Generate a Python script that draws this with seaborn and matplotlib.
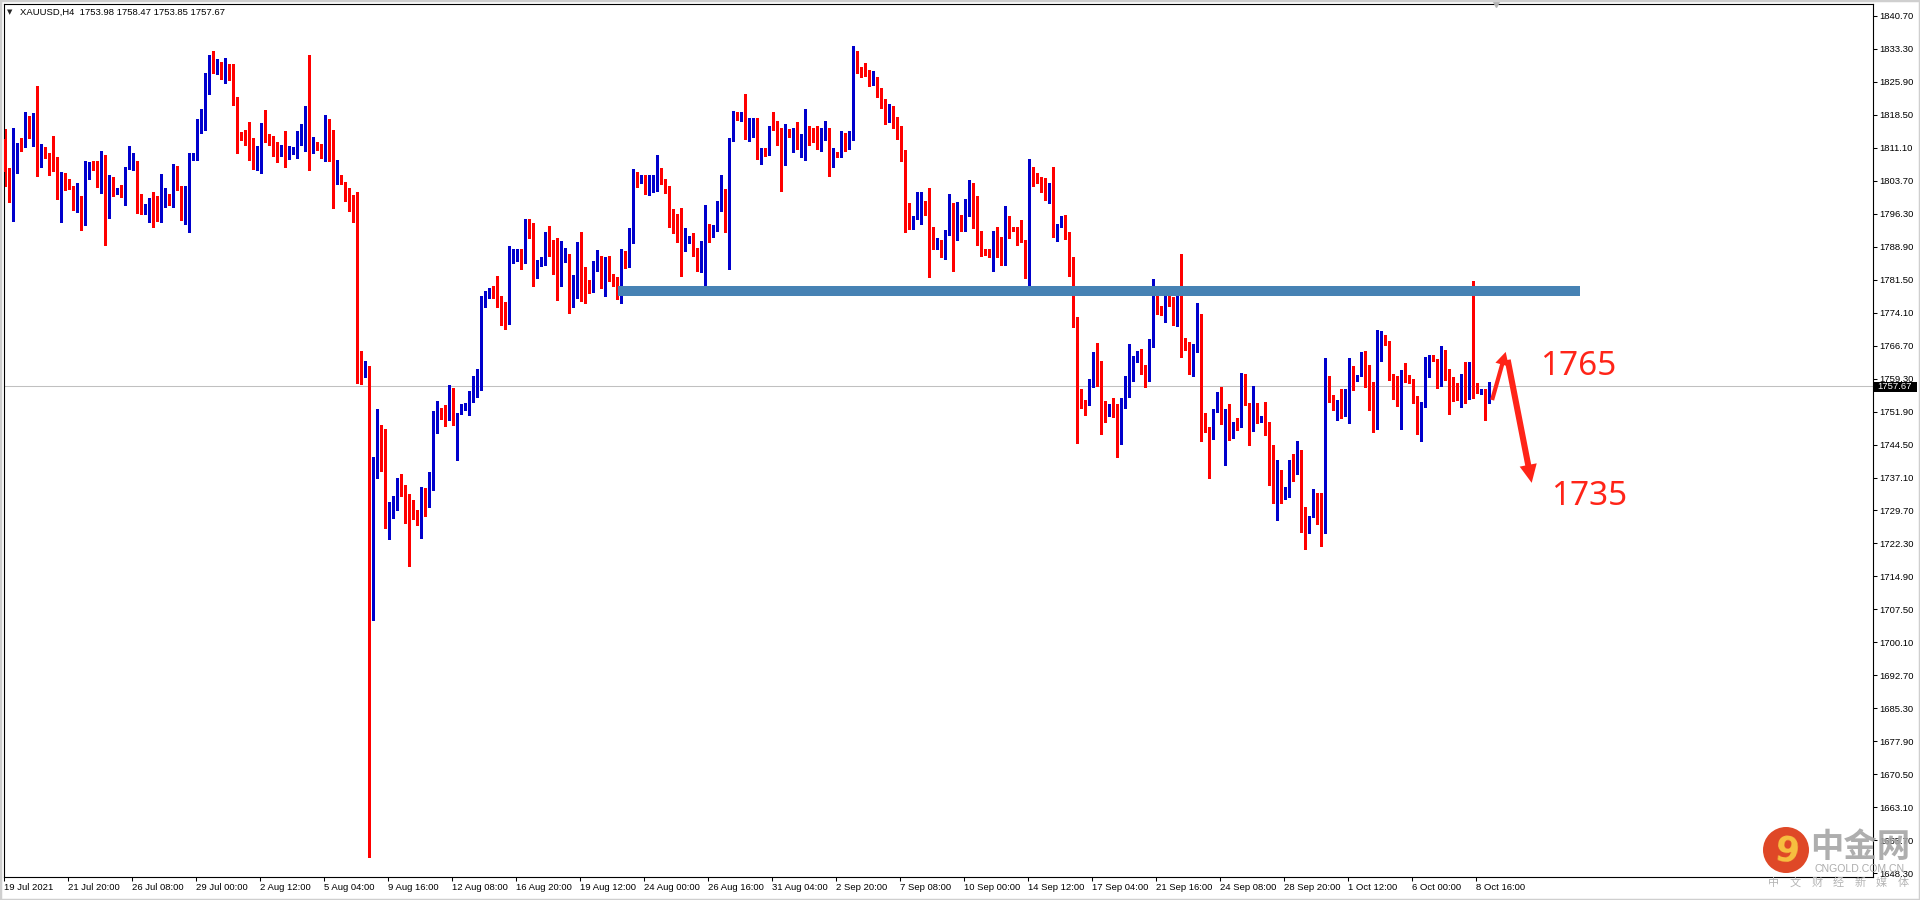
import numpy as np
import pandas as pd
import seaborn as sns
import matplotlib.pyplot as plt
from matplotlib import transforms
from matplotlib.patches import Rectangle, FancyArrowPatch, Ellipse, ArrowStyle

# XAUUSD H4 bars (19 Jul 2021 .. 8 Oct 2021)
opens = [
    1813.0, 1805.8, 1800.3, 1808.2, 1812.1, 1811.3, 1817.1, 1813.5, 1817.8, 1807.2,
    1809.9, 1809.7, 1808.5, 1807.4, 1800.3, 1804.0, 1803.6, 1802.5, 1798.2, 1800.4,
    1796.2, 1806.9, 1807.2, 1807.2, 1803.0, 1809.2, 1795.3, 1802.7, 1801.2, 1802.2,
    1800.0, 1806.3, 1807.7, 1807.9, 1799.3, 1797.4, 1797.4, 1799.0, 1798.6, 1798.2,
    1798.5, 1800.2, 1799.8, 1806.3, 1801.8, 1796.2, 1800.7, 1808.6, 1809.1, 1814.9,
    1815.8, 1824.8, 1831.0, 1828.6, 1830.3, 1828.4, 1829.2, 1827.6, 1822.5, 1814.4,
    1814.3, 1813.6, 1811.9, 1807.9, 1811.2, 1814.6, 1813.1, 1812.6, 1810.8, 1809.5,
    1810.1, 1809.1, 1811.1, 1810.9, 1813.2, 1815.5, 1819.5, 1811.0, 1811.9, 1811.6,
    1810.7, 1816.5, 1814.0, 1804.1, 1804.4, 1803.5, 1800.9, 1800.0, 1799.8, 1761.7,
    1759.7, 1761.2, 1718.0, 1737.8, 1748.9, 1743.9, 1728.0, 1728.2, 1731.4, 1737.0,
    1735.4, 1732.0, 1731.0, 1728.9, 1726.5, 1733.6, 1732.3, 1737.3, 1751.3, 1752.8,
    1752.0, 1750.3, 1756.5, 1749.0, 1751.3, 1752.9, 1753.0, 1754.9, 1756.9, 1758.9,
    1776.4, 1778.4, 1779.0, 1778.8, 1776.5, 1774.5, 1771.8, 1785.8, 1786.9, 1787.3,
    1785.8, 1792.7, 1791.4, 1782.4, 1784.9, 1785.8, 1790.1, 1790.1, 1786.8, 1783.5,
    1786.4, 1787.1, 1779.5, 1781.1, 1786.9, 1783.0, 1780.9, 1778.7, 1785.0, 1785.3,
    1784.3, 1784.9, 1782.3, 1781.3, 1778.9, 1786.9, 1785.0, 1790.7, 1804.5, 1803.6,
    1804.7, 1800.9, 1801.8, 1804.0, 1806.5, 1803.1, 1802.0, 1794.8, 1794.3, 1794.1,
    1788.8, 1790.6, 1791.4, 1787.9, 1786.8, 1788.3, 1793.0, 1792.3, 1792.5, 1797.8,
    1801.5, 1796.4, 1812.8, 1819.1, 1817.7, 1818.4, 1814.9, 1814.4, 1817.1, 1809.9,
    1810.5, 1810.2, 1815.7, 1815.3, 1812.8, 1807.7, 1814.9, 1814.1, 1815.0, 1811.3,
    1812.6, 1815.3, 1814.6, 1813.0, 1811.0, 1814.4, 1815.3, 1808.8, 1809.6, 1809.3,
    1812.6, 1811.1, 1814.4, 1829.4, 1828.5, 1828.1, 1827.6, 1825.5, 1825.8, 1823.7,
    1821.0, 1818.0, 1820.0, 1817.0, 1815.0, 1810.7, 1797.2, 1793.1, 1795.4, 1797.8,
    1798.8, 1796.8, 1791.8, 1788.3, 1790.5, 1788.0, 1791.6, 1798.8, 1792.1, 1795.9,
    1794.3, 1797.9, 1801.5, 1797.5, 1792.5, 1787.8, 1787.3, 1786.9, 1792.4, 1789.9,
    1789.6, 1795.2, 1793.3, 1793.0, 1791.0, 1790.5, 1784.0, 1805.6, 1805.2, 1803.6,
    1803.3, 1801.7, 1802.2, 1793.6, 1793.9, 1795.0, 1791.2, 1785.8, 1771.1, 1754.6,
    1754.1, 1753.4, 1757.7, 1761.2, 1759.7, 1752.5, 1751.2, 1754.6, 1753.7, 1745.8,
    1753.9, 1755.2, 1761.5, 1763.3, 1764.5, 1761.8, 1760.2, 1767.6, 1777.3, 1775.0,
    1774.6, 1777.5, 1777.1, 1772.1, 1777.9, 1768.2, 1766.9, 1763.7, 1766.6, 1772.9,
    1751.6, 1748.4, 1745.8, 1751.9, 1754.5, 1749.2, 1752.5, 1746.2, 1749.5, 1749.2,
    1759.0, 1753.8, 1747.8, 1750.9, 1749.8, 1750.9, 1749.5, 1743.5, 1733.9, 1736.4,
    1733.0, 1734.8, 1740.2, 1739.5, 1742.9, 1730.5, 1725.3, 1728.3, 1732.5, 1731.4,
    1725.3, 1757.7, 1755.7, 1752.5, 1753.9, 1752.8, 1754.1, 1761.5, 1759.5, 1760.4,
    1762.8, 1758.5, 1753.1, 1753.1, 1765.1, 1768.7, 1767.8, 1759.8, 1759.0, 1756.6,
    1760.6, 1759.9, 1759.2, 1755.4, 1747.4, 1754.0, 1761.5, 1764.2, 1763.7, 1759.7,
    1765.8, 1761.5, 1758.4, 1755.2, 1754.6, 1759.1, 1755.9, 1761.5, 1758.2, 1756.7,
    1757.0, 1753.98,
]
highs = [
    1815.3, 1806.6, 1815.5, 1812.1, 1813.2, 1819.1, 1818.2, 1819.0, 1825.0, 1811.9,
    1811.3, 1810.0, 1813.7, 1809.0, 1805.6, 1805.4, 1804.2, 1802.5, 1803.3, 1800.4,
    1808.2, 1807.9, 1808.2, 1808.2, 1810.3, 1809.6, 1805.0, 1804.5, 1802.1, 1802.7,
    1806.9, 1811.5, 1809.9, 1808.2, 1800.7, 1798.5, 1799.9, 1801.1, 1800.3, 1805.2,
    1802.0, 1800.7, 1807.4, 1807.0, 1802.5, 1802.5, 1809.9, 1810.0, 1817.5, 1819.8,
    1828.0, 1831.9, 1832.8, 1831.1, 1830.4, 1831.2, 1829.9, 1829.9, 1822.5, 1814.7,
    1815.0, 1816.9, 1813.2, 1811.6, 1816.6, 1819.5, 1814.2, 1813.7, 1812.4, 1811.8,
    1814.8, 1811.5, 1811.3, 1814.9, 1816.5, 1820.5, 1831.9, 1813.5, 1812.4, 1812.0,
    1818.5, 1817.5, 1815.0, 1808.3, 1805.0, 1803.5, 1802.0, 1800.6, 1801.3, 1765.5,
    1763.3, 1762.1, 1741.7, 1752.5, 1748.9, 1748.1, 1731.5, 1732.9, 1737.0, 1737.9,
    1735.4, 1733.3, 1732.1, 1729.9, 1735.0, 1734.8, 1738.3, 1752.0, 1754.3, 1752.8,
    1753.4, 1757.9, 1757.3, 1751.6, 1753.7, 1753.9, 1756.5, 1759.9, 1761.4, 1777.9,
    1779.0, 1779.7, 1780.0, 1782.4, 1777.9, 1776.4, 1789.1, 1788.4, 1788.4, 1788.4,
    1795.2, 1795.2, 1794.3, 1785.9, 1786.7, 1792.1, 1793.6, 1790.4, 1790.9, 1790.3,
    1788.6, 1787.3, 1782.6, 1790.0, 1792.3, 1784.3, 1781.5, 1785.6, 1788.2, 1786.9,
    1786.7, 1786.9, 1782.8, 1782.0, 1788.4, 1788.0, 1793.0, 1806.3, 1805.7, 1805.0,
    1804.9, 1804.9, 1805.1, 1809.6, 1806.5, 1804.0, 1802.6, 1797.3, 1796.2, 1797.7,
    1793.0, 1791.4, 1791.9, 1788.7, 1790.3, 1798.2, 1794.1, 1793.7, 1799.1, 1804.9,
    1801.9, 1813.3, 1819.3, 1819.1, 1819.1, 1823.1, 1817.9, 1817.9, 1817.7, 1811.1,
    1811.1, 1815.9, 1819.1, 1817.1, 1815.6, 1816.4, 1815.4, 1815.5, 1816.8, 1814.1,
    1819.9, 1815.9, 1815.5, 1815.9, 1815.5, 1817.1, 1815.5, 1811.0, 1810.1, 1814.8,
    1814.4, 1814.8, 1833.9, 1832.8, 1829.2, 1830.1, 1828.6, 1828.3, 1827.0, 1824.5,
    1822.0, 1821.0, 1820.5, 1818.0, 1816.0, 1810.7, 1798.7, 1795.7, 1801.1, 1801.1,
    1799.1, 1802.0, 1793.4, 1790.8, 1790.5, 1792.7, 1800.8, 1798.8, 1799.0, 1796.1,
    1799.6, 1803.8, 1803.3, 1800.4, 1792.5, 1788.5, 1788.3, 1792.5, 1793.4, 1791.2,
    1798.1, 1795.7, 1793.4, 1793.3, 1794.8, 1790.5, 1808.5, 1806.7, 1805.4, 1804.5,
    1804.3, 1803.3, 1806.8, 1794.1, 1795.7, 1796.1, 1792.1, 1786.5, 1773.2, 1757.0,
    1754.4, 1759.3, 1765.2, 1767.4, 1763.3, 1754.3, 1753.7, 1755.0, 1753.7, 1755.0,
    1760.0, 1767.0, 1764.3, 1765.4, 1766.0, 1762.4, 1768.1, 1781.6, 1778.2, 1775.5,
    1779.1, 1780.2, 1777.7, 1779.1, 1787.2, 1768.5, 1767.5, 1767.0, 1776.3, 1773.8,
    1751.6, 1748.4, 1752.5, 1756.3, 1757.4, 1752.5, 1753.6, 1749.5, 1750.5, 1760.6,
    1760.3, 1753.8, 1757.6, 1753.8, 1750.9, 1754.0, 1749.5, 1744.4, 1741.1, 1738.8,
    1735.0, 1741.1, 1742.4, 1745.3, 1743.3, 1730.5, 1728.5, 1734.5, 1733.6, 1733.6,
    1764.0, 1760.0, 1755.7, 1754.6, 1757.0, 1757.0, 1764.0, 1762.2, 1760.2, 1765.3,
    1765.5, 1762.4, 1758.6, 1770.2, 1770.0, 1769.1, 1767.8, 1760.4, 1759.9, 1761.2,
    1762.8, 1760.2, 1759.2, 1755.4, 1754.0, 1764.2, 1764.6, 1764.6, 1763.7, 1766.6,
    1765.8, 1761.5, 1759.7, 1758.4, 1760.4, 1763.0, 1763.0, 1781.2, 1758.4, 1757.0,
    1757.0, 1758.47,
]
lows = [
    1802.5, 1798.9, 1794.7, 1805.4, 1810.3, 1811.3, 1813.3, 1811.5, 1804.8, 1806.7,
    1808.8, 1805.0, 1805.9, 1799.7, 1794.4, 1801.6, 1801.8, 1797.1, 1796.8, 1792.6,
    1793.8, 1804.1, 1806.1, 1802.3, 1800.9, 1789.2, 1795.3, 1800.4, 1800.8, 1800.0,
    1798.2, 1806.3, 1806.1, 1796.4, 1796.3, 1796.3, 1794.4, 1793.3, 1794.6, 1794.4,
    1797.8, 1798.2, 1797.8, 1801.6, 1794.8, 1794.1, 1792.2, 1808.4, 1808.3, 1814.5,
    1815.1, 1823.3, 1828.0, 1827.7, 1826.5, 1825.7, 1826.4, 1820.8, 1809.9, 1812.8,
    1811.7, 1808.4, 1806.3, 1806.2, 1805.4, 1812.4, 1811.7, 1809.2, 1807.9, 1809.3,
    1806.8, 1808.7, 1809.8, 1808.8, 1811.7, 1810.4, 1806.1, 1809.9, 1810.7, 1808.8,
    1808.1, 1808.1, 1797.5, 1803.0, 1803.0, 1799.1, 1796.9, 1794.4, 1758.4, 1758.2,
    1759.7, 1651.9, 1705.2, 1737.0, 1738.5, 1725.8, 1723.3, 1728.0, 1729.9, 1733.0,
    1727.0, 1717.3, 1727.8, 1726.5, 1723.5, 1728.5, 1730.5, 1734.4, 1747.1, 1750.3,
    1748.6, 1750.0, 1749.0, 1741.0, 1751.3, 1752.2, 1751.1, 1754.1, 1755.2, 1756.7,
    1775.4, 1777.4, 1777.5, 1775.3, 1771.4, 1770.5, 1771.5, 1785.2, 1785.8, 1784.0,
    1785.2, 1790.8, 1780.1, 1781.8, 1784.5, 1784.8, 1786.9, 1782.8, 1777.0, 1780.1,
    1785.4, 1774.1, 1775.3, 1777.5, 1776.8, 1776.3, 1778.5, 1778.7, 1783.5, 1779.6,
    1777.9, 1781.3, 1780.0, 1777.2, 1776.2, 1784.1, 1784.3, 1789.7, 1802.3, 1803.2,
    1800.8, 1800.6, 1801.1, 1801.4, 1803.0, 1800.9, 1793.3, 1792.0, 1789.9, 1782.3,
    1788.0, 1789.7, 1786.9, 1783.4, 1783.2, 1779.8, 1789.9, 1791.0, 1792.5, 1797.0,
    1792.1, 1783.8, 1812.6, 1817.4, 1817.1, 1813.0, 1812.6, 1813.5, 1808.7, 1807.4,
    1809.3, 1809.4, 1815.0, 1811.8, 1801.4, 1807.2, 1813.5, 1810.2, 1810.9, 1809.0,
    1808.4, 1811.7, 1812.4, 1810.8, 1810.5, 1812.8, 1804.8, 1806.8, 1809.0, 1809.0,
    1810.3, 1810.9, 1812.9, 1827.9, 1827.0, 1827.2, 1824.9, 1825.3, 1822.5, 1820.0,
    1816.5, 1817.0, 1815.5, 1813.0, 1808.1, 1792.1, 1792.9, 1792.9, 1795.1, 1793.9,
    1796.1, 1782.0, 1788.3, 1788.3, 1786.7, 1786.1, 1791.6, 1783.5, 1790.5, 1792.4,
    1792.4, 1795.9, 1793.1, 1789.4, 1786.9, 1787.1, 1786.7, 1783.4, 1786.7, 1784.9,
    1784.9, 1790.8, 1792.4, 1789.4, 1789.9, 1781.8, 1780.0, 1802.6, 1803.2, 1801.1,
    1799.3, 1798.7, 1791.0, 1790.3, 1793.4, 1790.7, 1782.4, 1770.8, 1744.9, 1752.8,
    1751.2, 1753.4, 1757.5, 1757.7, 1746.9, 1749.6, 1751.0, 1750.7, 1741.7, 1744.7,
    1752.8, 1755.2, 1758.8, 1763.1, 1760.3, 1757.5, 1758.8, 1766.3, 1773.9, 1773.5,
    1771.9, 1775.5, 1771.4, 1771.2, 1764.2, 1765.7, 1760.4, 1759.9, 1765.2, 1745.3,
    1747.4, 1737.0, 1745.8, 1751.9, 1749.2, 1740.0, 1745.5, 1746.0, 1747.8, 1748.5,
    1753.4, 1744.4, 1747.5, 1749.4, 1749.6, 1746.7, 1735.4, 1731.4, 1727.6, 1731.4,
    1732.3, 1732.7, 1736.4, 1737.9, 1724.9, 1721.0, 1724.6, 1728.3, 1726.7, 1721.7,
    1724.6, 1754.1, 1752.3, 1750.1, 1750.5, 1750.8, 1749.4, 1756.8, 1758.8, 1760.0,
    1757.4, 1752.3, 1747.4, 1748.0, 1763.3, 1766.9, 1759.1, 1754.8, 1753.2, 1748.0,
    1758.6, 1758.4, 1753.9, 1746.9, 1745.3, 1753.0, 1759.7, 1763.3, 1757.3, 1757.7,
    1759.1, 1751.4, 1754.3, 1754.6, 1753.0, 1753.9, 1754.8, 1755.0, 1756.1, 1755.9,
    1750.1, 1753.85,
]
closes = [
    1805.7, 1800.3, 1808.3, 1811.9, 1811.1, 1817.1, 1813.5, 1817.8, 1807.2, 1809.9,
    1809.4, 1808.6, 1807.2, 1800.4, 1804.0, 1803.4, 1802.3, 1798.2, 1800.4, 1796.5,
    1806.9, 1807.2, 1806.9, 1802.7, 1809.2, 1795.5, 1802.7, 1801.1, 1801.8, 1800.0,
    1806.6, 1807.9, 1807.9, 1799.1, 1797.3, 1797.5, 1799.3, 1798.5, 1798.2, 1798.6,
    1800.2, 1799.7, 1806.3, 1801.6, 1796.2, 1800.7, 1808.7, 1809.2, 1815.1, 1816.2,
    1825.0, 1831.0, 1828.6, 1830.1, 1828.4, 1829.1, 1827.5, 1822.6, 1814.2, 1814.1,
    1813.5, 1811.7, 1807.9, 1811.5, 1814.6, 1813.1, 1812.4, 1810.5, 1809.4, 1810.1,
    1809.1, 1811.3, 1811.4, 1813.2, 1815.5, 1819.5, 1811.1, 1811.9, 1811.5, 1810.7,
    1816.5, 1814.0, 1804.1, 1804.4, 1803.2, 1800.9, 1799.8, 1799.3, 1761.5, 1759.7,
    1763.0, 1718.0, 1737.9, 1748.9, 1743.8, 1728.0, 1728.4, 1731.0, 1737.0, 1735.3,
    1731.9, 1731.0, 1728.8, 1726.5, 1733.6, 1732.3, 1737.4, 1751.4, 1752.8, 1751.9,
    1750.3, 1756.5, 1749.0, 1751.3, 1753.2, 1753.2, 1755.0, 1757.4, 1759.0, 1776.5,
    1778.6, 1779.7, 1778.6, 1776.4, 1774.4, 1771.8, 1786.1, 1787.3, 1787.3, 1785.6,
    1792.7, 1791.2, 1782.4, 1784.9, 1786.0, 1790.0, 1789.9, 1786.7, 1783.5, 1786.4,
    1787.3, 1779.5, 1781.3, 1786.7, 1782.9, 1780.7, 1778.7, 1785.2, 1785.3, 1784.3,
    1784.9, 1782.0, 1780.7, 1778.4, 1786.9, 1785.0, 1790.7, 1804.5, 1803.4, 1804.7,
    1800.9, 1801.8, 1804.0, 1806.5, 1803.0, 1801.6, 1794.6, 1794.1, 1794.0, 1788.8,
    1790.7, 1791.4, 1787.7, 1786.8, 1788.5, 1793.0, 1792.3, 1793.4, 1798.0, 1801.5,
    1796.4, 1813.1, 1819.1, 1817.6, 1818.4, 1814.9, 1815.0, 1817.1, 1809.9, 1810.5,
    1810.2, 1815.7, 1815.0, 1812.6, 1807.7, 1814.9, 1814.1, 1815.3, 1811.1, 1812.8,
    1815.5, 1814.6, 1812.8, 1811.0, 1814.6, 1815.5, 1808.8, 1809.6, 1809.3, 1812.6,
    1811.1, 1814.6, 1829.4, 1828.4, 1827.4, 1827.3, 1825.7, 1826.0, 1823.7, 1821.0,
    1818.0, 1820.0, 1817.0, 1815.0, 1810.7, 1797.0, 1793.1, 1795.7, 1797.9, 1798.8,
    1796.5, 1791.6, 1788.3, 1790.5, 1788.0, 1792.4, 1798.8, 1791.8, 1795.9, 1794.3,
    1797.9, 1801.5, 1797.2, 1792.4, 1787.6, 1787.3, 1786.9, 1792.4, 1789.6, 1789.4,
    1795.2, 1793.0, 1792.7, 1790.7, 1790.3, 1784.0, 1805.6, 1805.0, 1803.4, 1803.1,
    1801.5, 1802.0, 1793.4, 1794.1, 1795.0, 1791.0, 1785.6, 1771.0, 1754.3, 1753.9,
    1753.4, 1758.0, 1761.2, 1759.5, 1752.3, 1751.2, 1753.7, 1753.9, 1745.8, 1752.0,
    1755.7, 1761.8, 1763.6, 1764.9, 1761.5, 1760.2, 1767.8, 1777.3, 1774.8, 1774.5,
    1777.5, 1776.8, 1771.9, 1778.0, 1767.9, 1766.4, 1763.7, 1766.6, 1772.9, 1751.4,
    1748.3, 1745.8, 1752.0, 1754.5, 1749.2, 1752.5, 1746.2, 1749.5, 1748.9, 1759.0,
    1753.4, 1747.8, 1750.9, 1749.8, 1750.9, 1749.5, 1743.3, 1733.9, 1736.4, 1733.0,
    1735.0, 1740.4, 1739.5, 1743.3, 1730.3, 1725.3, 1728.5, 1732.7, 1731.2, 1725.5,
    1758.0, 1755.5, 1752.5, 1753.9, 1752.8, 1754.4, 1761.3, 1759.5, 1760.0, 1762.8,
    1758.4, 1752.8, 1752.9, 1765.3, 1768.7, 1767.5, 1759.5, 1758.8, 1756.6, 1760.6,
    1759.7, 1758.8, 1755.2, 1747.4, 1754.0, 1761.7, 1764.2, 1763.5, 1759.7, 1765.8,
    1761.1, 1755.9, 1755.0, 1754.8, 1759.1, 1755.9, 1761.5, 1758.4, 1756.6, 1756.8,
    1753.4, 1757.67,
]

time_labels = ['19 Jul 2021', '21 Jul 20:00', '26 Jul 08:00', '29 Jul 00:00', '2 Aug 12:00',
               '5 Aug 04:00', '9 Aug 16:00', '12 Aug 08:00', '16 Aug 20:00', '19 Aug 12:00',
               '24 Aug 00:00', '26 Aug 16:00', '31 Aug 04:00', '2 Sep 20:00', '7 Sep 08:00',
               '10 Sep 00:00', '14 Sep 12:00', '17 Sep 04:00', '21 Sep 16:00', '24 Sep 08:00',
               '28 Sep 20:00', '1 Oct 12:00', '6 Oct 00:00', '8 Oct 16:00']
price_ticks = [1840.70, 1833.30, 1825.90, 1818.50, 1811.10, 1803.70, 1796.30, 1788.90,
               1781.50, 1774.10, 1766.70, 1759.30, 1751.90, 1744.50, 1737.10, 1729.70,
               1722.30, 1714.90, 1707.50, 1700.10, 1692.70, 1685.30, 1677.90, 1670.50,
               1663.10, 1655.70, 1648.30]
header = 'XAUUSD,H4  1753.98 1758.47 1753.85 1757.67'
last_price = 1757.67
zone_low, zone_high = 1777.75, 1780.2
targets = ['1765', '1735']

BULL = '#0000cc'
BEAR = '#ff0000'
ARROW_RED = '#ff2418'

sns.set_style('white', {'axes.edgecolor': 'black'})
plt.rcParams['font.family'] = ['Liberation Sans', 'DejaVu Sans']

df = pd.DataFrame({'open': opens, 'high': highs, 'low': lows, 'close': closes})
df['bar'] = np.arange(len(df))
df['color'] = np.where(df['close'] >= df['open'], BULL, BEAR)

W, H = 1920, 900
fig = plt.figure(figsize=(19.2, 9), dpi=100, facecolor='white')
ax = fig.add_axes([4 / W, 23 / H, 1869 / W, 873 / H])
ax.set_facecolor('white')

# current price line (behind candles)
ax.axhline(last_price, color='#c0c0c0', lw=0.75, zorder=0.5)

# wicks and bodies
ax.vlines(df['bar'], df['low'], df['high'], colors=df['color'], lw=0.75,
          antialiased=False, zorder=2)
body_lo = np.minimum(df['open'], df['close'])
body_h = np.maximum((df['close'] - df['open']).abs(), 0.25)
ax.bar(df['bar'], body_h, bottom=body_lo, width=0.8, color=df['color'],
       linewidth=0, antialiased=False, zorder=3)

# resistance band
ax.fill_between([153.1, 393.6], zone_low, zone_high, color='#4682b4', lw=0, zorder=4)

# forecast arrows
up = FancyArrowPatch((371.7, 1754.5), (375.1, 1765.3),
                     arrowstyle=ArrowStyle.Simple(head_length=0.95, head_width=1.0, tail_width=0.3),
                     mutation_scale=10, color=ARROW_RED, lw=0, shrinkA=0, shrinkB=0,
                     zorder=6, clip_on=False)
down = FancyArrowPatch((375.6, 1763.5), (381.6, 1735.9),
                       arrowstyle=ArrowStyle.Simple(head_length=1.05, head_width=1.0, tail_width=0.35),
                       mutation_scale=12.5, color=ARROW_RED, lw=0, shrinkA=0, shrinkB=0,
                       zorder=6, clip_on=False)
ax.add_patch(up)
ax.add_patch(down)
ax.text(383.7, 1760.1, targets[0], color=ARROW_RED, fontsize=24, family='Noto Sans',
        ha='left', va='baseline', zorder=6)
ax.text(386.4, 1730.9, targets[1], color=ARROW_RED, fontsize=24, family='Noto Sans',
        ha='left', va='baseline', zorder=6)

# axes limits / ticks
ax.set_xlim(-0.325, 466.925)
ax.set_ylim(1647.43, 1843.39)
for s in ax.spines.values():
    s.set_visible(True)
    s.set_color('black')
    s.set_linewidth(0.8)

ax.yaxis.tick_right()
ax.set_yticks(price_ticks)
ax.set_yticklabels([f'{p:.2f}' for p in price_ticks])
ax.set_xticks([16 * j - 0.3 for j in range(len(time_labels))])
ax.set_xticklabels(time_labels, ha='left')
ax.tick_params(axis='both', which='both', direction='out', length=3, width=0.75,
               color='black', labelsize=6.8, labelcolor='black', pad=1.5)
ax.tick_params(axis='y', left=False, right=True)
ax.tick_params(axis='x', bottom=True, top=False)
ax.grid(False)

# last price box on the price scale
tr = transforms.blended_transform_factory(ax.transAxes, ax.transData)
ax.add_patch(Rectangle((1.0005, last_price - 1.3), 0.0228, 2.24, transform=tr,
                       facecolor='black', edgecolor='none', clip_on=False, zorder=7))
ax.text(1.0022, last_price - 0.15, f'{last_price:.2f}', transform=tr, color='white',
        fontsize=6.8, ha='left', va='center', clip_on=False, zorder=8)

# chart-shift marker at the top
ax.plot([372.7], [1.0], marker='v', ms=5, color='#b4b4b4',
        transform=transforms.blended_transform_factory(ax.transData, ax.transAxes),
        clip_on=False, zorder=8)

# header
fig.text(7 / W, 1 - 12.5 / H, '▼', fontsize=5, family='DejaVu Sans', va='center', ha='left')
fig.text(20 / W, 1 - 12 / H, header, fontsize=6.8, va='center', ha='left', color='black')

# window frame
fig.add_artist(Rectangle((0, 0), 1, 1, transform=fig.transFigure, fill=False,
                         edgecolor='#cfcfcf', lw=2.5))

# watermark logo (sits over the price scale, as in the original)
fig.add_artist(Ellipse((1786 / W, 1 - 850 / H), 46 / W, 46 / H, transform=fig.transFigure,
                       facecolor='#de3e1b', edgecolor='none', alpha=0.95, zorder=9))
fig.text(1787 / W, 1 - 851 / H, '9', fontsize=25, fontweight='bold', color='#f7c040',
         family='DejaVu Sans', ha='center', va='center', rotation=-8, zorder=10)
fig.text(1860 / W, 1 - 847 / H, '中金网', fontsize=24, fontweight='bold', color='#a5a5a5',
         family=['Noto Sans CJK SC'], ha='center', va='center', alpha=0.9, zorder=10)
fig.text(1860 / W, 1 - 869 / H, 'CNGOLD.COM.CN', fontsize=7.6, color='#adadad',
         ha='center', va='center', zorder=10)
for k, ch in enumerate('中文财经新媒体'):
    fig.text((1774 + 21.5 * k) / W, 1 - 883 / H, ch, fontsize=8, color='#b5b5b5',
             family=['Noto Sans CJK SC'], ha='center', va='center', zorder=10)

fig.savefig('out.png', dpi=100, facecolor='white')
